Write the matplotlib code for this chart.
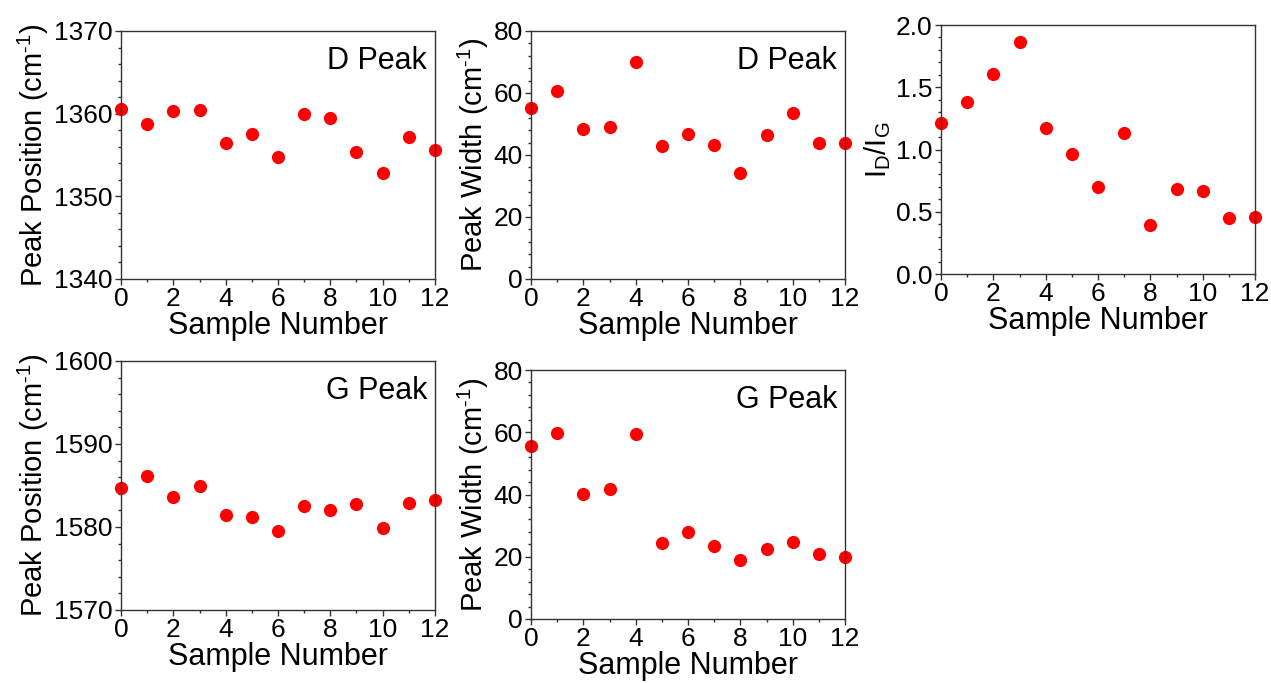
import matplotlib.pyplot as plt
import numpy as np
from matplotlib.ticker import MultipleLocator

plt.rcParams['font.family'] = ['Liberation Sans', 'DejaVu Sans']
plt.rcParams['mathtext.fontset'] = 'custom'
plt.rcParams['mathtext.rm'] = 'Liberation Sans'

# Data
sample = np.arange(13)

d_position = [1360.6, 1358.7, 1360.3, 1360.5, 1356.5, 1357.5, 1354.8,
              1359.9, 1359.5, 1355.4, 1352.8, 1357.2, 1355.6]
d_width = [55.2, 60.8, 48.5, 49.1, 70.0, 43.0, 46.8,
           43.1, 34.3, 46.3, 53.6, 43.9, 43.9]
id_ig = [1.21, 1.38, 1.61, 1.86, 1.17, 0.96, 0.70,
         1.13, 0.39, 0.68, 0.67, 0.45, 0.455]
g_position = [1584.7, 1586.1, 1583.6, 1584.9, 1581.5, 1581.2, 1579.5,
              1582.5, 1582.0, 1582.8, 1579.9, 1582.9, 1583.3]
g_width = [55.6, 59.9, 40.3, 41.7, 59.4, 24.5, 27.8,
           23.3, 19.0, 22.6, 24.8, 20.9, 19.8]

W, H = 1271, 683
fig = plt.figure(figsize=(W / 100, H / 100), dpi=100)


def make_ax(x0, y0, x1, y1):
    # pixel box -> figure fraction
    return fig.add_axes([x0 / W, 1 - y1 / H, (x1 - x0) / W, (y1 - y0) / H])


def style(ax, ylim, major, minor, ylabel, tag=None):
    ax.set_xlim(0, 12)
    ax.set_ylim(*ylim)
    ax.xaxis.set_major_locator(MultipleLocator(2))
    ax.xaxis.set_minor_locator(MultipleLocator(1))
    ax.yaxis.set_major_locator(MultipleLocator(major))
    ax.yaxis.set_minor_locator(MultipleLocator(minor))
    ax.tick_params(which='major', direction='out', length=4, width=1,
                   labelsize=19, pad=2, color='#333333')
    ax.tick_params(which='minor', direction='out', length=2.5, width=1,
                   color='#333333')
    for s in ax.spines.values():
        s.set_linewidth(1)
        s.set_color('#333333')
    ax.set_xlabel("Sample Number", fontsize=22, labelpad=0)
    ax.set_ylabel(ylabel, fontsize=21, labelpad=2)
    if tag:
        ax.text(0.975, 0.94, tag, transform=ax.transAxes, ha='right',
                va='top', fontsize=22)


def dots(ax, y):
    ax.plot(sample, y, 'o', color='#ff0000', markersize=9.5,
            markeredgewidth=0, clip_on=False)


cm = r"(cm$^{\mathregular{‑1}}$)"

ax1 = make_ax(121, 31, 435, 279)
dots(ax1, d_position)
style(ax1, (1340, 1370), 10, 2, "Peak Position " + cm, "D Peak")

ax2 = make_ax(531, 31, 845, 279)
dots(ax2, d_width)
style(ax2, (0, 80), 20, 4, "Peak Width " + cm, "D Peak")

ax3 = make_ax(941, 25, 1255, 274)
dots(ax3, id_ig)
style(ax3, (0, 2.0), 0.5, 0.1, r"I$_\mathregular{D}$/I$_\mathregular{G}$")
ax3.yaxis.set_major_formatter(plt.FuncFormatter(lambda v, p: f"{v:.1f}"))

ax4 = make_ax(121, 361, 435, 610)
dots(ax4, g_position)
style(ax4, (1570, 1600), 10, 2, "Peak Position " + cm, "G Peak")

ax5 = make_ax(531, 370, 845, 619)
dots(ax5, g_width)
style(ax5, (0, 80), 20, 4, "Peak Width " + cm, "G Peak")

fig.savefig("out.png", dpi=100)
